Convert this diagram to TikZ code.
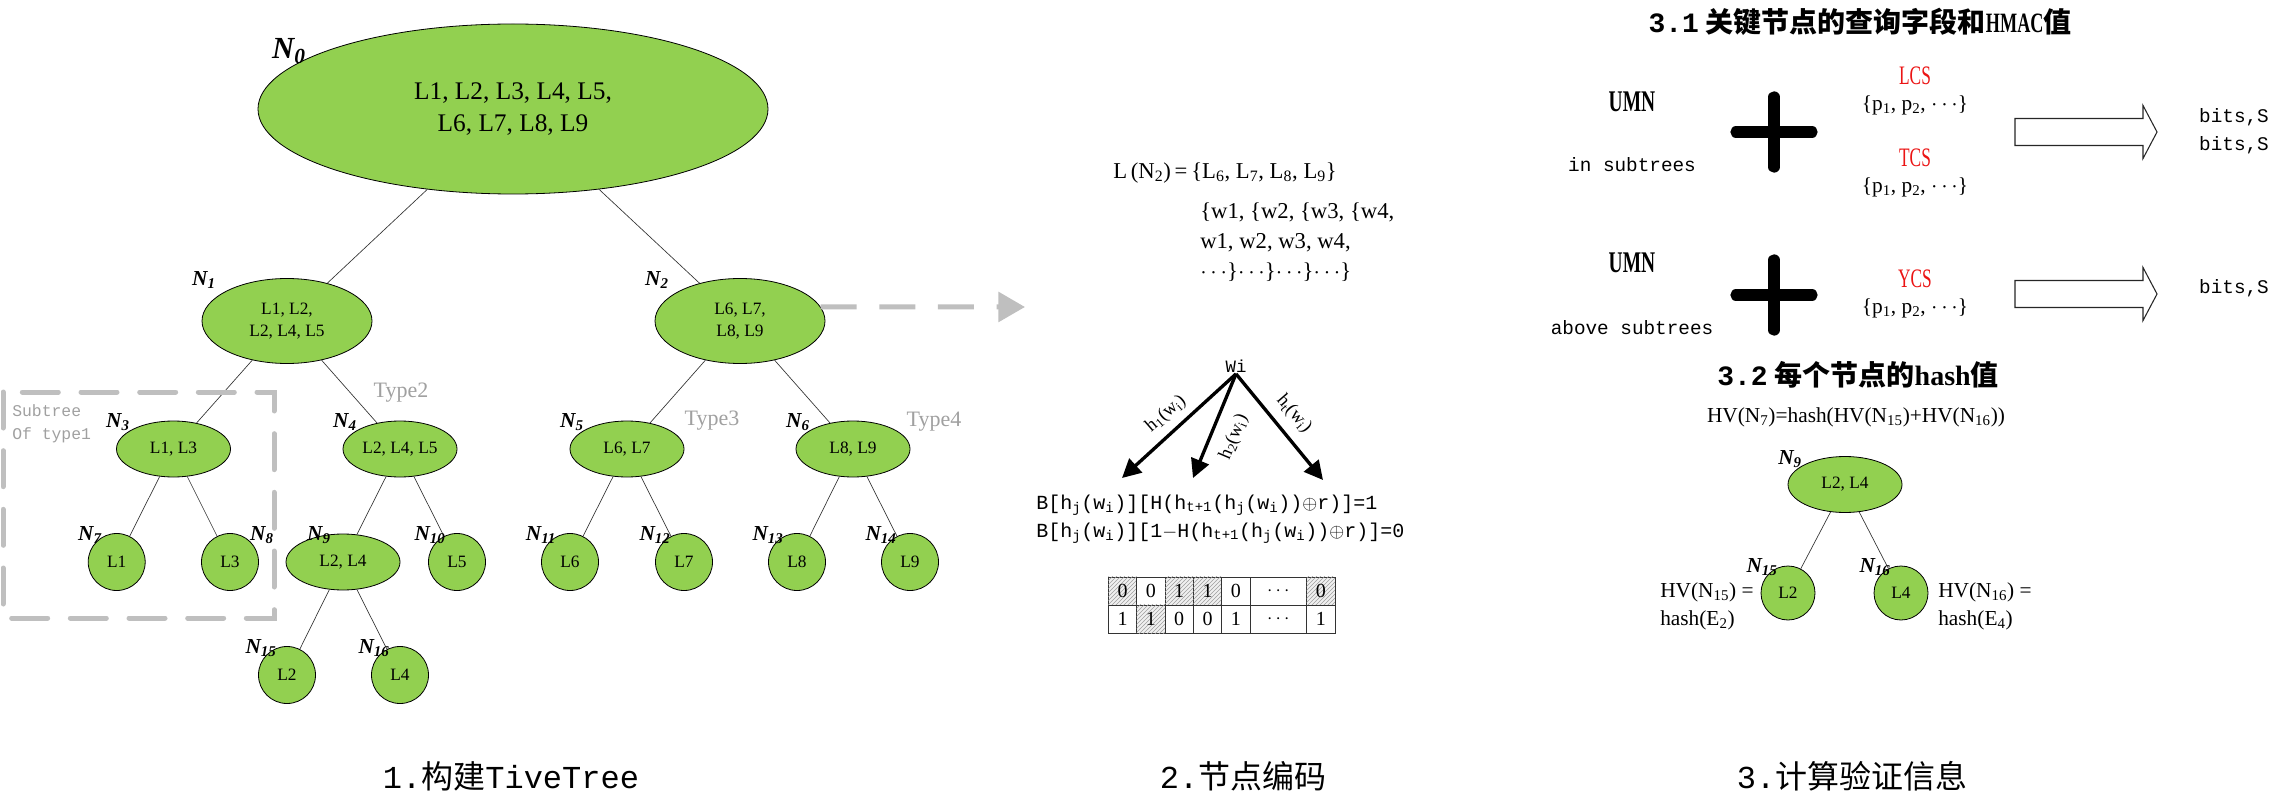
\documentclass[tikz,border=0pt]{standalone}
\usepackage{fontspec}
\setmainfont{Liberation Serif}
\setmonofont{Liberation Mono}
\newfontfamily\cjkfont{Noto Sans CJK SC}
\newfontfamily\condfont[FakeStretch=0.65]{Liberation Serif}
\usetikzlibrary{shapes.geometric,arrows.meta,patterns}

\definecolor{leafgreen}{RGB}{146,208,80}
\definecolor{boxgray}{RGB}{191,191,191}
\definecolor{typegray}{RGB}{160,160,160}
\definecolor{csred}{RGB}{235,20,20}

\newcommand{\fsz}[2]{\fontsize{#1pt}{#2pt}\selectfont}

\tikzset{
  tnode/.style={ellipse, draw=black, line width=0.6pt, fill=leafgreen, inner sep=0pt, align=center},
  bignode/.style={tnode, minimum width=382.5pt, minimum height=127.5pt, font=\fsz{19}{24}},
  midnode/.style={tnode, minimum width=127.5pt, minimum height=63.75pt, font=\fsz{13}{17}},
  smallnode/.style={tnode, minimum width=85.5pt, minimum height=42pt, font=\fsz{13}{16}},
  leaf/.style={circle, draw=black, line width=0.6pt, fill=leafgreen, inner sep=0pt, minimum size=42.75pt, font=\fsz{13}{16}},
  nlabel/.style={inner sep=0pt, font=\fsz{16}{18}\bfseries\itshape},
  edge/.style={line width=0.5pt, draw=black!80},
  typelabel/.style={inner sep=0pt, text=typegray, font=\fsz{16.5}{19}},
  subbox/.style={draw=boxgray, line width=3.75pt, dash pattern=on 27pt off 17pt, line cap=round},
  dasharrow/.style={draw=boxgray, line width=3.75pt, dash pattern=on 27pt off 17pt, -{Triangle[length=20pt,width=22pt,fill=boxgray]}},
  hasharrow/.style={line width=2.5pt, -{Triangle[length=14pt,width=14pt]}},
  hlabel/.style={inner sep=0pt, font=\fsz{14}{16}},
  bitcell/.style={draw=black!80, line width=0.5pt, minimum width=21.25pt, minimum height=21.25pt, inner sep=0pt, font=\fsz{15}{17}},
  hatched/.style={fill=gray!12, postaction={pattern=north east lines, pattern color=gray!75}},
  titletext/.style={inner sep=0pt, font=\fsz{21}{24}\bfseries},
  umn/.style={inner sep=0pt, font=\condfont\bfseries\fsz{22.5}{24}},
  monotext/.style={inner sep=0pt, font=\ttfamily\fsz{14.5}{17}},
  cslabel/.style={inner sep=0pt, text=csred, font=\condfont\fsz{20}{22}},
  pset/.style={inner sep=0pt, font=\fsz{16}{18}},
  hvtext/.style={inner sep=0pt, font=\fsz{16}{21}},
  caption/.style={inner sep=0pt, font=\fsz{24}{28}},
  plussign/.pic={\draw[line width=8.5pt, line cap=round] (-38,0) -- (38,0) (0,-35) -- (0,35);},
  blockarrow/.pic={\draw[line width=0.8pt, draw=black!85, fill=white] (0,-13.5) -- (128,-13.5) -- (128,-26.5) -- (142,0) -- (128,26.5) -- (128,13.5) -- (0,13.5) -- cycle;}
}

\begin{document}
\begin{tikzpicture}[x=0.75pt,y=0.75pt,yscale=-1,xscale=1]
\useasboundingbox (0,0) rectangle (2283,809);

%Shape: Ellipse (tree)
\node (n0) at (513,109) [bignode] {L1, L2, L3, L4, L5,\\L6, L7, L8, L9};
\node (n1) at (287,321) [midnode] {L1, L2,\\L2, L4, L5};
\node (n2) at (740,321) [midnode] {L6, L7,\\L8, L9};
\node (n3) at (173.5,449) [smallnode] {L1, L3};
\node (n4) at (400,449) [smallnode] {L2, L4, L5};
\node (n5) at (627,449) [smallnode] {L6, L7};
\node (n6) at (853,449) [smallnode] {L8, L9};
\node (n7) at (116.7,562) [leaf] {L1};
\node (n8) at (230,562) [leaf] {L3};
\node (n9) at (343,562) [smallnode] {L2, L4};
\node (n10) at (457,562) [leaf] {L5};
\node (n11) at (570,562) [leaf] {L6};
\node (n12) at (684,562) [leaf] {L7};
\node (n13) at (797,562) [leaf] {L8};
\node (n14) at (910,562) [leaf] {L9};
\node (n15) at (287,675) [leaf] {L2};
\node (n16) at (400,675) [leaf] {L4};

%Straight Lines
\draw [edge] (n0) -- (n1);
\draw [edge] (n0) -- (n2);
\draw [edge] (n1) -- (n3);
\draw [edge] (n1) -- (n4);
\draw [edge] (n2) -- (n5);
\draw [edge] (n2) -- (n6);
\draw [edge] (n3) -- (n7);
\draw [edge] (n3) -- (n8);
\draw [edge] (n4) -- (n9);
\draw [edge] (n4) -- (n10);
\draw [edge] (n5) -- (n11);
\draw [edge] (n5) -- (n12);
\draw [edge] (n6) -- (n13);
\draw [edge] (n6) -- (n14);
\draw [edge] (n9) -- (n15);
\draw [edge] (n9) -- (n16);

% Text Node
\node (n0l) at (289,51) [nlabel, font=\fsz{23}{26}\bfseries\itshape] {N\textsubscript{0}};
\node (n1l) at (204,280) [nlabel] {N\textsubscript{1}};
\node (n2l) at (657,280) [nlabel] {N\textsubscript{2}};
\node (n3l) at (118,422) [nlabel] {N\textsubscript{3}};
\node (n4l) at (345,422) [nlabel] {N\textsubscript{4}};
\node (n5l) at (572,422) [nlabel] {N\textsubscript{5}};
\node (n6l) at (798,422) [nlabel] {N\textsubscript{6}};
\node (n7l) at (90,535) [nlabel] {N\textsubscript{7}};
\node (n8l) at (262,535) [nlabel] {N\textsubscript{8}};
\node (n9l) at (319,535) [nlabel] {N\textsubscript{9}};
\node (n10l) at (430,535) [nlabel] {N\textsubscript{10}};
\node (n11l) at (541,535) [nlabel] {N\textsubscript{11}};
\node (n12l) at (655,535) [nlabel] {N\textsubscript{12}};
\node (n13l) at (768,535) [nlabel] {N\textsubscript{13}};
\node (n14l) at (881,535) [nlabel] {N\textsubscript{14}};
\node (n15l) at (261,648) [nlabel] {N\textsubscript{15}};
\node (n16l) at (374,648) [nlabel] {N\textsubscript{16}};

%Shape: Rectangle (dashed subtree box)
\draw [subbox] (3,392) rectangle (274,618);
\node (subtxt) at (12,423.5) [anchor=west, align=left, inner sep=0pt, text=typegray, font=\ttfamily\fsz{12.3}{17}] {Subtree\\Of type1};
\node (type2) at (401,393) [typelabel] {Type2};
\node (type3) at (712,421) [typelabel] {Type3};
\node (type4) at (934,422) [typelabel] {Type4};

%Straight Lines (dashed arrow to node coding)
\coordinate (l2tip) at (1025,307);
\draw [dasharrow] (n2.10) -- (l2tip);

% Text Node
\node (lset) at (1113,173) [anchor=west, inner sep=0pt, font=\fsz{17}{20}] {L\,(N\textsubscript{2})\,=\,\{L\textsubscript{6}, L\textsubscript{7}, L\textsubscript{8}, L\textsubscript{9}\}};
\node (wset) at (1200,242) [anchor=west, align=left, inner sep=0pt, font=\fsz{17}{22.5}] {\{w1, \{w2, \{w3, \{w4,\\w1, w2, w3, w4,\\$\cdots$\}$\cdots$\}$\cdots$\}$\cdots$\}};

%Hash arrows
\node (wi) at (1236,366) [inner sep=1pt, font=\ttfamily\fsz{13}{15}] {Wi};
\coordinate (h1end) at (1122,478);
\coordinate (h2end) at (1193,478);
\coordinate (h3end) at (1323,480);
\draw [hasharrow] (wi.south) -- (h1end);
\draw [hasharrow] (wi.south) -- (h2end);
\draw [hasharrow] (wi.south) -- (h3end);
\node (h1l) at (1166,414) [hlabel, rotate=41] {h\textsubscript{1}(w\textsubscript{i})};
\node (h2l) at (1234,437) [hlabel, rotate=67] {h\textsubscript{2}(w\textsubscript{i})};
\node (h3l) at (1294,414) [hlabel, rotate=-49] {h\textsubscript{t}(w\textsubscript{i})};

% Text Node
\node (bform) at (1036,519) [anchor=west, align=left, inner sep=0pt, font=\ttfamily\fsz{15}{21}] {B[h\textsubscript{j}(w\textsubscript{i})][H(h\textsubscript{t+1}(h\textsubscript{j}(w\textsubscript{i}))$\oplus$r)]=1\\B[h\textsubscript{j}(w\textsubscript{i})][1$-$H(h\textsubscript{t+1}(h\textsubscript{j}(w\textsubscript{i}))$\oplus$r)]=0};

%Bit table
\node (c11) at (1122.5,591) [bitcell, hatched] {0};
\node (c12) at (1150.8,591) [bitcell] {0};
\node (c13) at (1179.2,591) [bitcell, hatched] {1};
\node (c14) at (1207.5,591) [bitcell, hatched] {1};
\node (c15) at (1235.8,591) [bitcell] {0};
\node (c16) at (1278.3,591) [bitcell, minimum width=42.5pt] {$\cdots$};
\node (c17) at (1320.8,591) [bitcell, hatched] {0};
\node (c21) at (1122.5,619) [bitcell] {1};
\node (c22) at (1150.8,619) [bitcell, hatched] {1};
\node (c23) at (1179.2,619) [bitcell] {0};
\node (c24) at (1207.5,619) [bitcell] {0};
\node (c25) at (1235.8,619) [bitcell] {1};
\node (c26) at (1278.3,619) [bitcell, minimum width=42.5pt] {$\cdots$};
\node (c27) at (1320.8,619) [bitcell] {1};

% 3.1 query fields and HMAC
\node (t31) at (1860,22) [titletext] {{\ttfamily 3.1} {\cjkfont 关键节点的查询字段和}{\condfont HMAC}{\cjkfont 值}};
\node (umn1) at (1632,102) [umn] {UMN};
\node (insub) at (1632,165) [monotext] {in subtrees};
\pic (plus1) at (1774,132) {plussign};
\node (lcs) at (1915,76) [cslabel] {LCS};
\node (lcsp) at (1915,105) [pset] {\{p\textsubscript{1}, p\textsubscript{2}, $\cdots$\}};
\node (tcs) at (1915,158) [cslabel] {TCS};
\node (tcsp) at (1915,187) [pset] {\{p\textsubscript{1}, p\textsubscript{2}, $\cdots$\}};
\pic (arr1) at (2015,132) {blockarrow};
\node (bits1) at (2234,117) [monotext] {bits,S};
\node (bits2) at (2234,145) [monotext] {bits,S};

\node (umn2) at (1632,263) [umn] {UMN};
\node (abovesub) at (1632,328) [monotext] {above subtrees};
\pic (plus2) at (1774,295) {plussign};
\node (ycs) at (1915,279) [cslabel] {YCS};
\node (ycsp) at (1915,308) [pset] {\{p\textsubscript{1}, p\textsubscript{2}, $\cdots$\}};
\pic (arr2) at (2015,294) {blockarrow};
\node (bits3) at (2234,288) [monotext] {bits,S};

% 3.2 hash value of each node
\node (t32) at (1858,375) [titletext] {{\ttfamily 3.2} {\cjkfont 每个节点的}hash{\cjkfont 值}};
\node (hvn7) at (1856,417) [hvtext] {HV(N\textsubscript{7})=hash(HV(N\textsubscript{15})+HV(N\textsubscript{16}))};
\node (m9) at (1845,484.5) [smallnode] {L2, L4};
\node (m15) at (1788,593) [leaf, minimum size=40.5pt] {L2};
\node (m16) at (1901,593) [leaf, minimum size=40.5pt] {L4};
\draw [edge] (m9) -- (m15);
\draw [edge] (m9) -- (m16);
\node (m9l) at (1790,459) [nlabel] {N\textsubscript{9}};
\node (m15l) at (1762,567) [nlabel] {N\textsubscript{15}};
\node (m16l) at (1875,567) [nlabel] {N\textsubscript{16}};
\node (hv15) at (1660,606) [anchor=west, align=left, hvtext] {HV(N\textsubscript{15}) =\\hash(E\textsubscript{2})};
\node (hv16) at (1938,606) [anchor=west, align=left, hvtext] {HV(N\textsubscript{16}) =\\hash(E\textsubscript{4})};

% Captions
\node (cap1) at (511,776) [caption] {{\ttfamily 1.}{\cjkfont 构建}{\ttfamily TiveTree}};
\node (cap2) at (1243,776) [caption] {{\ttfamily 2.}{\cjkfont 节点编码}};
\node (cap3) at (1852,776) [caption] {{\ttfamily 3.}{\cjkfont 计算验证信息}};

\end{tikzpicture}
\end{document}
